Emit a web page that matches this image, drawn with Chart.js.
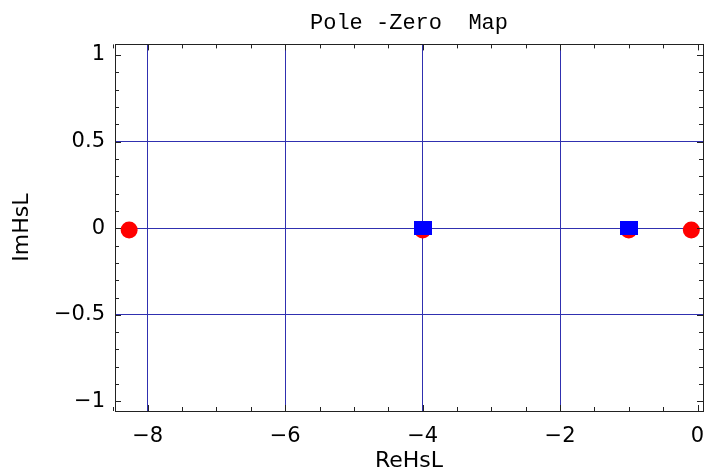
<!DOCTYPE html>
<html>
<head>
<meta charset="utf-8">
<script src="https://cdn.jsdelivr.net/npm/chart.js@4"></script>
<style>
  html, body { margin: 0; padding: 0; background: #fff; }
  #wrap { width: 706px; height: 471px; }
</style>
</head>
<body>
<div id="wrap"><canvas id="pzmap" width="706" height="471"></canvas></div>
<script>
// poles (red circles) and zeros (blue squares)
const poleRe = [-8.27, -4.0, -1.0, -0.09];
const poleIm = [-0.01, -0.01, -0.01, -0.01];
const zeroRe = [-4.0, -1.0];
const zeroIm = [0, 0];

const xTicks = [-8, -6, -4, -2, 0];
const yTicks = [-1, -0.5, 0, 0.5, 1];

const gridBlue = '#3030b0';
const frame = '#222';

function toPoints(xs, ys) {
  return xs.map((x, i) => ({ x: x, y: ys[i] }));
}

// blue rectangle marker for zeros
const sq = document.createElement('canvas');
sq.width = 18; sq.height = 14;
const sctx = sq.getContext('2d');
sctx.fillStyle = '#0000FF';
sctx.fillRect(0, 0, 18, 14);

function fmt(v) {
  if (v === 0) return '0';
  return (v < 0 ? '\u2212' : '') + String(Math.abs(v));
}

// frame plus the small inward ticks on all four sides
const frameTicks = {
  id: 'frameTicks',
  afterDraw(chart) {
    const { ctx, chartArea: a, scales } = chart;
    const xs = scales.x, ys = scales.y;
    ctx.save();
    ctx.strokeStyle = frame;
    ctx.lineWidth = 1;
    ctx.beginPath();
    for (let v = -8.5; v <= 0.01; v += 0.5) {
      const px = Math.round(xs.getPixelForValue(v)) + 0.5;
      const len = Math.abs(v % 2) < 1e-6 ? 6 : 4;
      ctx.moveTo(px, a.bottom); ctx.lineTo(px, a.bottom - len);
      ctx.moveTo(px, a.top); ctx.lineTo(px, a.top + len);
    }
    for (let k = -10; k <= 10; k++) {
      const v = k / 10;
      const py = Math.round(ys.getPixelForValue(v)) + 0.5;
      const len = k % 5 === 0 ? 6 : 4;
      ctx.moveTo(a.left, py); ctx.lineTo(a.left + len, py);
      ctx.moveTo(a.right, py); ctx.lineTo(a.right - len, py);
    }
    ctx.stroke();
    ctx.strokeRect(Math.round(a.left) + 0.5, Math.round(a.top) + 0.5,
      Math.round(a.right - a.left), Math.round(a.bottom - a.top));
    ctx.restore();
  }
};

const ctx = document.getElementById('pzmap').getContext('2d');
new Chart(ctx, {
  type: 'scatter',
  data: {
    datasets: [
      {
        label: 'poles',
        data: toPoints(poleRe, poleIm),
        pointStyle: 'circle',
        pointRadius: 8.5,
        pointHoverRadius: 8.5,
        backgroundColor: '#FF0000',
        borderColor: '#FF0000',
        borderWidth: 0,
        order: 2
      },
      {
        label: 'zeros',
        data: toPoints(zeroRe, zeroIm),
        pointStyle: sq,
        backgroundColor: '#0000FF',
        borderColor: '#0000FF',
        order: 1
      }
    ]
  },
  options: {
    responsive: false,
    animation: false,
    events: [],
    layout: { autoPadding: false, padding: { left: 0, right: 3, top: 0, bottom: 0 } },
    plugins: {
      legend: { display: false },
      tooltip: { enabled: false },
      title: {
        display: true,
        text: 'Pole -Zero  Map',
        fullSize: false,
        color: '#000',
        font: { family: '"Liberation Mono", monospace', size: 22, weight: 'normal' },
        padding: { top: 10, bottom: 8 }
      }
    },
    scales: {
      x: {
        type: 'linear',
        min: -8.476,
        max: 0.08,
        afterBuildTicks: s => { s.ticks = xTicks.map(v => ({ value: v })); },
        afterFit: s => { s.height = 60; s.paddingLeft = 0; s.paddingRight = 0; },
        grid: {
          drawTicks: false,
          lineWidth: 1,
          color: [gridBlue, gridBlue, gridBlue, gridBlue, 'rgba(0,0,0,0)']
        },
        border: { display: false },
        ticks: {
          color: '#000',
          padding: 13,
          maxRotation: 0,
          font: { family: '"DejaVu Sans", sans-serif', size: 21 },
          callback: v => fmt(v)
        },
        title: {
          display: true,
          text: 'ReHsL',
          color: '#000',
          font: { family: '"DejaVu Sans", sans-serif', size: 22 },
          padding: { top: 0, bottom: -3 }
        }
      },
      y: {
        type: 'linear',
        min: -1.055,
        max: 1.061,
        afterBuildTicks: s => { s.ticks = yTicks.map(v => ({ value: v })); },
        afterFit: s => { s.width = 115; s.paddingTop = 0; s.paddingBottom = 0; },
        grid: {
          drawTicks: false,
          lineWidth: 1,
          color: ['rgba(0,0,0,0)', gridBlue, gridBlue, gridBlue, 'rgba(0,0,0,0)']
        },
        border: { display: false },
        ticks: {
          color: '#000',
          padding: 10,
          font: { family: '"DejaVu Sans", sans-serif', size: 21 },
          callback: v => fmt(v)
        },
        title: {
          display: true,
          text: 'ImHsL',
          color: '#000',
          font: { family: '"DejaVu Sans", sans-serif', size: 22 },
          padding: { top: 9, bottom: 0 }
        }
      }
    }
  },
  plugins: [frameTicks]
});
</script>
</body>
</html>
